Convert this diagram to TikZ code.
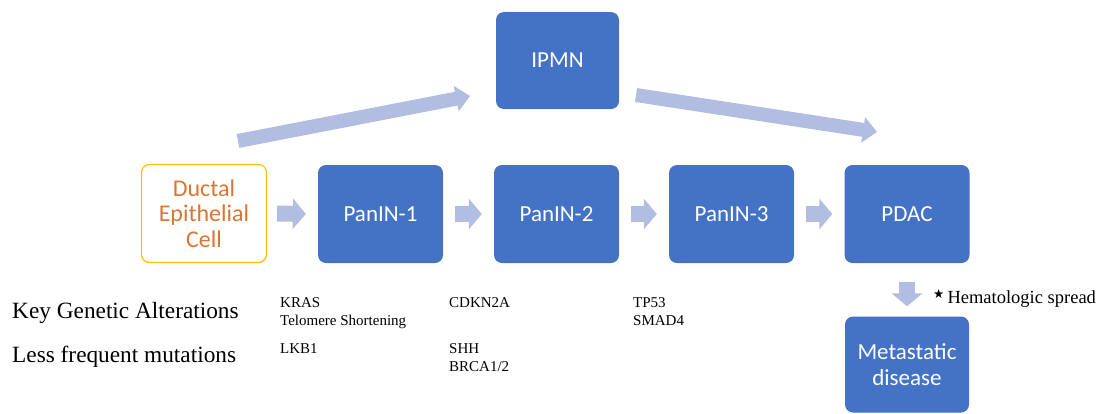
\documentclass[tikz,border=0pt]{standalone}
\usepackage{fontspec}
\setmainfont{Liberation Serif}
\newfontfamily\boxfont{Carlito}
\newfontfamily\symfont{DejaVu Sans}
\usetikzlibrary{arrows.meta}
\definecolor{boxblue}{HTML}{4472C4}
\definecolor{arrowblue}{HTML}{B1BDE1}
\definecolor{cellgold}{HTML}{FFC000}
\definecolor{cellorange}{HTML}{DA7634}

\begin{document}
\begin{tikzpicture}[x=1pt,y=-1pt,
  stage/.style={fill=boxblue, rounded corners=8pt, minimum width=125pt, minimum height=98pt,
    text=white, font=\boxfont\fontsize{23}{26}\selectfont, align=center, inner sep=0pt},
  cell/.style={draw=cellgold, line width=1.2pt, fill=white, rounded corners=8pt,
    minimum width=125pt, minimum height=98pt, text=cellorange,
    font=\boxfont\fontsize{24}{25.5}\selectfont, align=center, inner sep=0pt},
  stepflow/.style={draw=arrowblue, line width=16pt, -{Triangle[length=13pt,width=30pt]}},
  sideflow/.style={draw=arrowblue, line width=14pt, -{Triangle[length=14pt,width=25pt]}},
  rowlabel/.style={anchor=base west, inner sep=0pt, font=\fontsize{23.3}{27}\selectfont},
  gene/.style={anchor=base west, inner sep=0pt, font=\fontsize{15}{18}\selectfont},
]
  \useasboundingbox (0,0) rectangle (1102,413);

  % stages
  \node[cell]  (duct)   at (204,213.5) {Ductal\\Epithelial\\Cell};
  \node[stage] (panin1) at (380.5,214) {PanIN-1};
  \node[stage] (panin2) at (556.5,214) {PanIN-2};
  \node[stage] (panin3) at (731.5,214) {PanIN-3};
  \node[stage] (pdac)   at (907,214)   {PDAC};
  \node[stage, minimum width=123pt, minimum height=97pt] (ipmn) at (557.5,60.5) {IPMN};
  \node[stage, minimum width=124pt, minimum height=96pt] (meta) at (907,364.5) {Metastatic\\disease};

  % arrows
  \draw[stepflow] ([xshift=10pt]duct.east) -- ([xshift=-12pt]panin1.west);
  \draw[stepflow] ([xshift=12pt]panin1.east) -- ([xshift=-12pt]panin2.west);
  \draw[stepflow] ([xshift=12pt]panin2.east) -- ([xshift=-12pt]panin3.west);
  \draw[stepflow] ([xshift=12pt]panin3.east) -- ([xshift=-12pt]pdac.west);
  \draw[stepflow] ([yshift=-19pt]pdac.south) -- ([yshift=10pt]meta.north);

  \coordinate (upstart)   at (238,141);
  \coordinate (upend)     at (470,96);
  \coordinate (downstart) at (636,95);
  \coordinate (downend)   at (877,132);
  \draw[sideflow] (upstart) -- (upend);
  \draw[sideflow] (downstart) -- (downend);

  % genetics
  \node[rowlabel] (keylab)  at (12,318) {Key Genetic Alterations};
  \node[rowlabel] (lesslab) at (12,362) {Less frequent mutations};
  \node[gene] (kras)   at (280,307) {KRAS};
  \node[gene] (telo)   at (280,325) {Telomere Shortening};
  \node[gene] (cdkn)   at (449,307) {CDKN2A};
  \node[gene] (tp53)   at (633,307) {TP53};
  \node[gene] (smad)   at (633,325) {SMAD4};
  \node[gene] (lkb)    at (280,353) {LKB1};
  \node[gene] (shh)    at (449,353) {SHH};
  \node[gene] (brca)   at (449,371) {BRCA1/2};
  \node[anchor=base west, inner sep=0pt, font=\fontsize{18.5}{22}\selectfont] (spread) at (933,303)
    {\raisebox{5pt}{\symfont\fontsize{12.5}{12.5}\selectfont ★}\,Hematologic spread};
\end{tikzpicture}
\end{document}
